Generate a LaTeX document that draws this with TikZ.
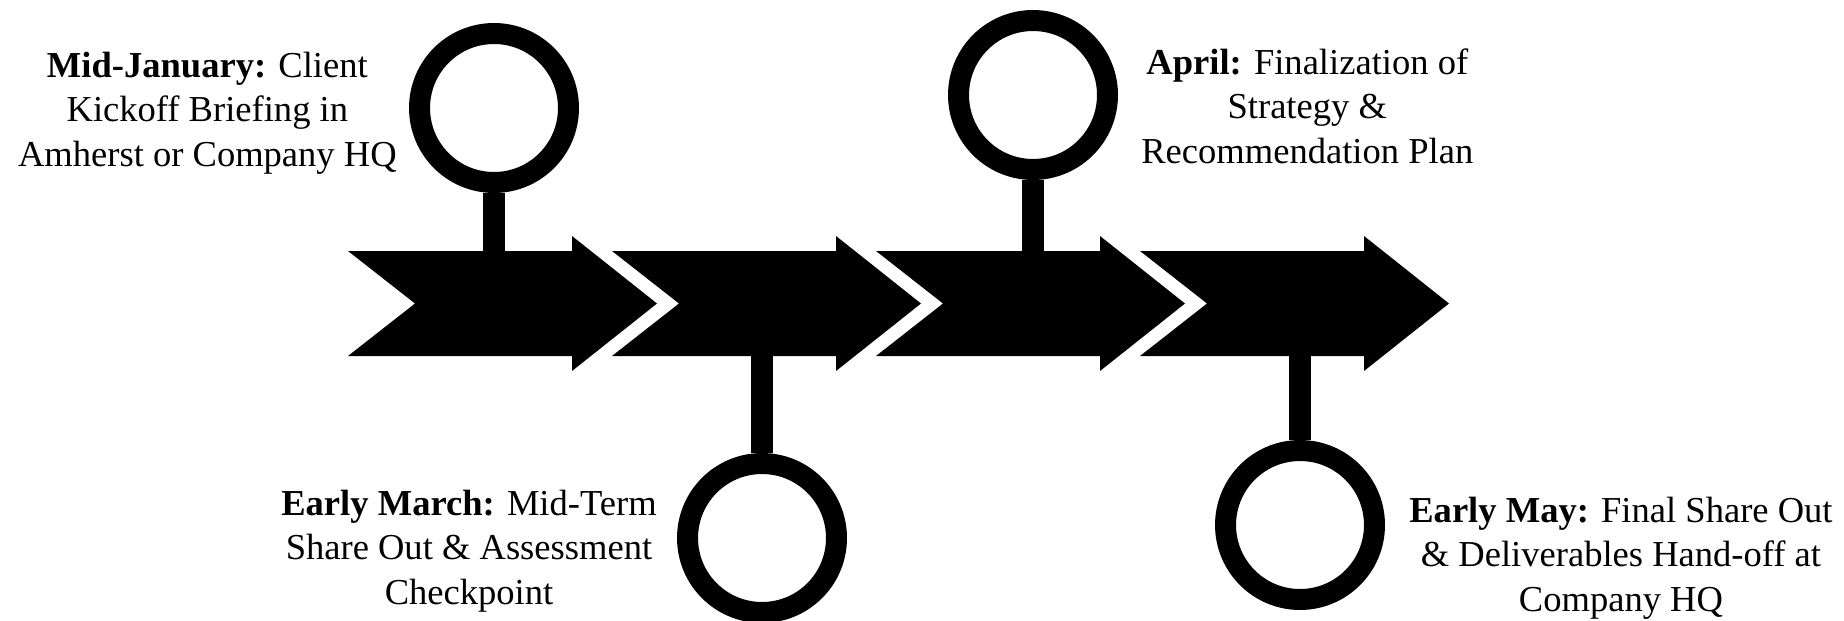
\documentclass[tikz,border=0pt]{standalone}
\usepackage{fontspec}
\setmainfont{Liberation Serif}
\usepackage{tikz}
\usetikzlibrary{positioning}

\tikzset{
    ring/.style={circle, draw=black, line width=0.42cm, minimum size=2.98cm, inner sep=0pt},
    stem/.style={draw=black, line width=0.44cm},
    note/.style={align=center, inner sep=0pt, font=\fontsize{20.8}{25.3}\selectfont},
}

\begin{document}
\begin{tikzpicture}[x=0.02cm, y=0.02cm]
    \useasboundingbox (0,0) rectangle (1844,620);

    % the four chevrons
    \foreach \x in {348,612,876,1140}
      \fill (\x,369) -- ++(224,0) -- ++(0,15) -- ++(85,-67.5) -- ++(-85,-67.5)
        -- ++(0,15) -- ++(-224,0) -- ++(67,52.5) -- cycle;

    \node [ring] (c1) at (494,512) {};
    \node [ring] (c2) at (762,82) {};
    \node [ring] (c3) at (1033,525) {};
    \node [ring] (c4) at (1300,95) {};

    \coordinate (a1) at (494,369);
    \coordinate (a2) at (762,264);
    \coordinate (a3) at (1033,369);
    \coordinate (a4) at (1300,264);

    \draw [stem] (c1) -- (a1);
    \draw [stem] (c2) -- (a2);
    \draw [stem] (c3) -- (a3);
    \draw [stem] (c4) -- (a4);

    \node [note, left=0.24cm of c1, yshift=-0.1cm] (t1)
      {\textbf{Mid-January:} Client\\Kickoff Briefing in\\Amherst or Company HQ};
    \node [note, left=0.4cm of c2, yshift=-0.26cm] (t2)
      {\textbf{Early March:} Mid-Term\\Share Out \& Assessment\\Checkpoint};
    \node [note, right=0.46cm of c3, yshift=-0.22cm] (t3)
      {\textbf{April:} Finalization of\\Strategy \&\\Recommendation Plan};
    \node [note, right=0.48cm of c4, yshift=-0.66cm] (t4)
      {\textbf{Early May:} Final Share Out\\\& Deliverables Hand-off at\\Company HQ};
\end{tikzpicture}
\end{document}
